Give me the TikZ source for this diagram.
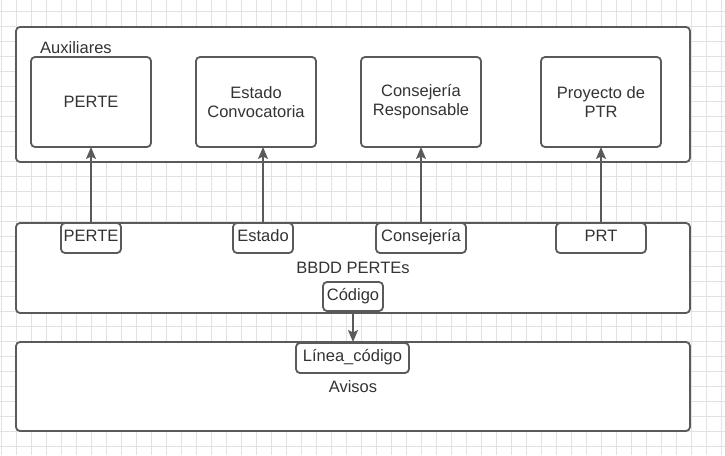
\documentclass[tikz,border=0pt]{standalone}
\usepackage{fontspec}
\setmainfont{Liberation Sans}
\usetikzlibrary{arrows.meta}
\definecolor{gridc}{HTML}{E2E2E2}
\definecolor{linec}{HTML}{5A5A5A}
\definecolor{textc}{HTML}{333333}
\tikzset{
  box/.style={draw=linec, line width=1.8pt, fill=white, rounded corners=4pt,
    inner sep=0pt, outer sep=0pt, text=textc, align=center,
    font=\fontsize{16.5}{19}\selectfont},
  tag/.style={box, text height=12pt, text depth=5pt},
  arr/.style={draw=linec, line width=1.5pt,
    -{Stealth[length=12pt, width=10pt, inset=2.5pt]}},
}
\begin{document}
\begin{tikzpicture}[x=1pt, y=-1pt]
\useasboundingbox (0,0) rectangle (725,455);
\fill[white] (0,0) rectangle (725,455);
% grid
\foreach \i in {0,...,48} \draw[gridc, line width=0.8pt] ({1+15*\i},0) -- ({1+15*\i},455);
\foreach \j in {0,...,29} \draw[gridc, line width=0.8pt] (0,{11.7+15*\j}) -- (725,{11.7+15*\j});

% containers
\node[box, minimum width=674pt, minimum height=135pt] (aux) at (353,94.5) {};
\node[anchor=base west, inner sep=0pt, text=textc, font=\fontsize{16.5}{19}\selectfont] (auxlbl) at (40,53) {Auxiliares};
\node[box, minimum width=674pt, minimum height=90pt] (bbdd) at (353,268) {BBDD PERTEs};
\node[box, minimum width=674pt, minimum height=89pt] (avisos) at (353,386.5) {Avisos};

% auxiliary tables
\node[box, minimum width=120pt, minimum height=90pt] (bPERTE) at (91,102) {PERTE};
\node[box, minimum width=120pt, minimum height=90pt] (bEstado) at (256,102) {Estado\\Convocatoria};
\node[box, minimum width=120pt, minimum height=90pt] (bCons) at (421,102) {Consejería\\Responsable};
\node[box, minimum width=120pt, minimum height=90pt] (bPTR) at (601,102) {Proyecto de\\PTR};

% fields of BBDD PERTEs
\node[tag, minimum width=60pt, minimum height=30pt] (sPERTE) at (91,238) {PERTE};
\node[tag, minimum width=60pt, minimum height=30pt] (sEstado) at (263,238) {Estado};
\node[tag, minimum width=90pt, minimum height=30pt] (sCons) at (421,238) {Consejería};
\node[tag, minimum width=90pt, minimum height=30pt] (sPRT) at (601,238) {PRT};
\node[tag, minimum width=60pt, minimum height=29pt] (cod) at (353,296.5) {Código};

% field of Avisos
\node[tag, minimum width=113pt, minimum height=30pt] (linea) at (352.5,358) {Línea\_código};

% connectors
\draw[arr] (sPERTE.north) -- (bPERTE.south);
\draw[arr] (sEstado.north) -- (sEstado.north |- bEstado.south);
\draw[arr] (sCons.north) -- (bCons.south);
\draw[arr] (sPRT.north) -- (bPTR.south);
\draw[arr] (cod.south) -- (cod.south |- avisos.north);
\end{tikzpicture}
\end{document}
